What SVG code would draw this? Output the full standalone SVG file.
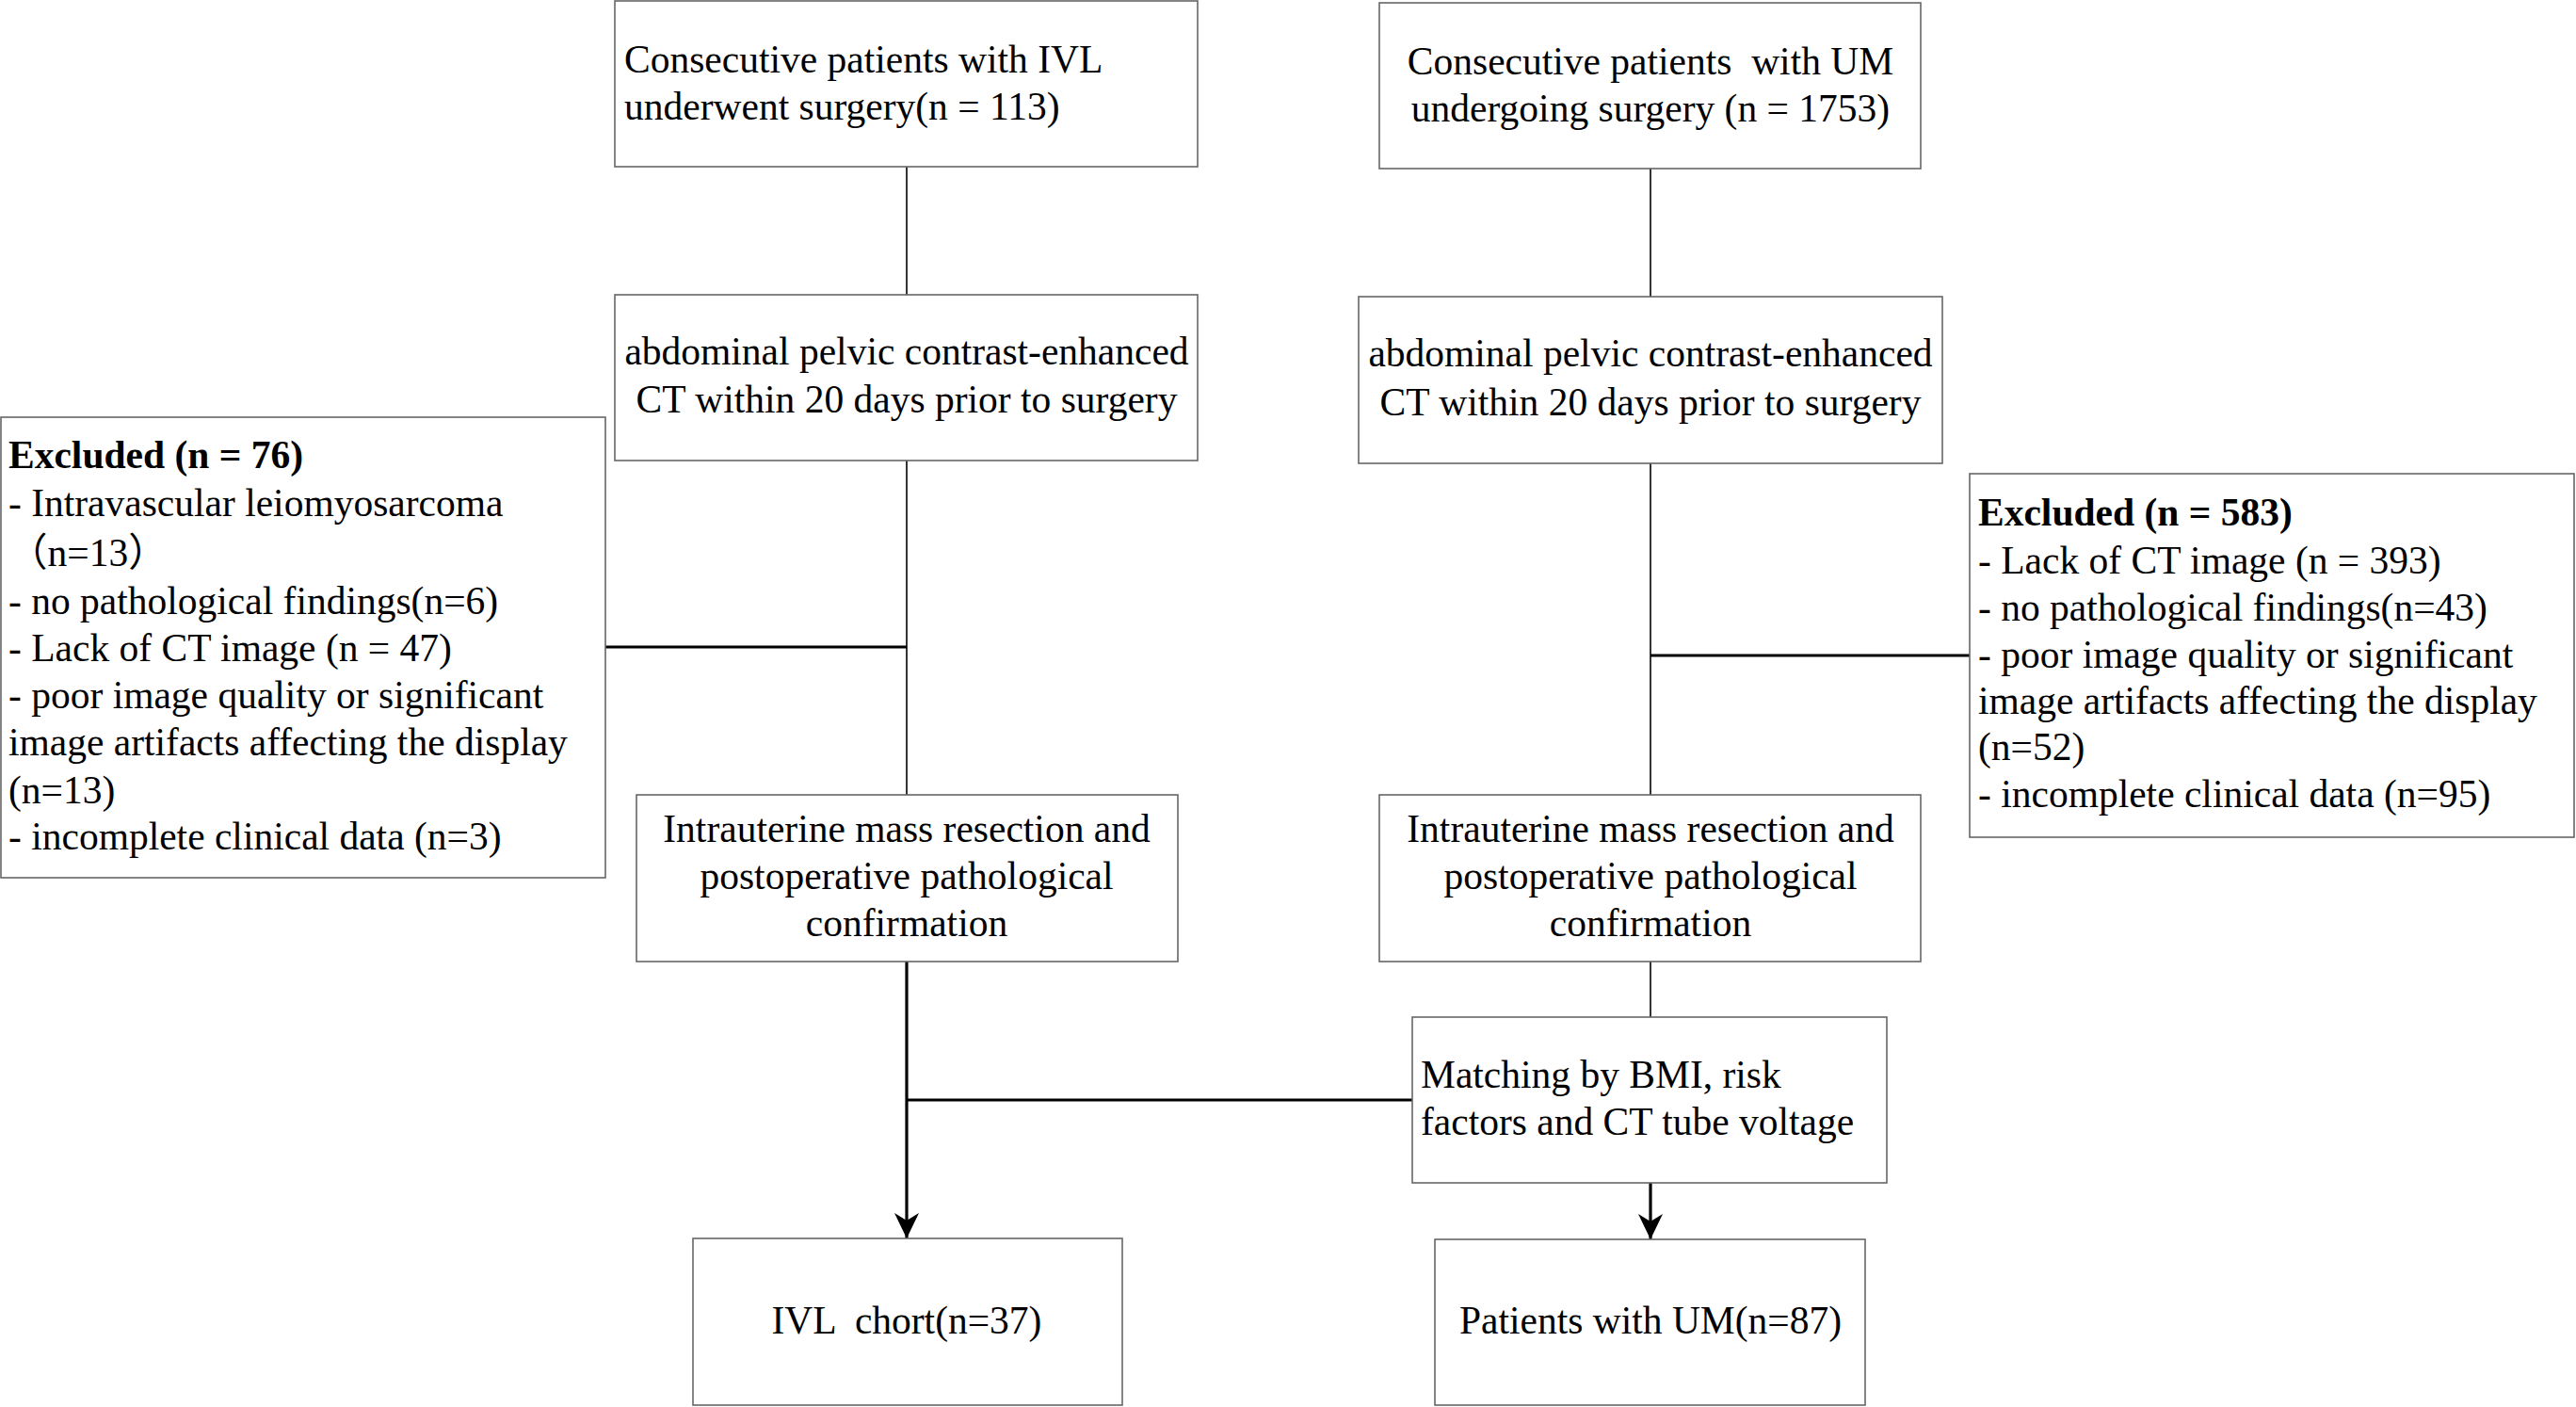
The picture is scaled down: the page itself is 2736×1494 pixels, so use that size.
<svg xmlns="http://www.w3.org/2000/svg" width="2736" height="1494" viewBox="0 0 2736 1494">
<defs>
<style>
.box{fill:#ffffff;stroke:#666666;stroke-width:1.6}
.t{font-family:"Liberation Serif","Times New Roman","Noto Sans CJK SC",serif;font-size:41.5px;fill:#000000;white-space:pre}
.c{text-anchor:middle}
.b{font-weight:bold}
.thin{stroke:#000000;stroke-width:1.6;fill:none}
.thick{stroke:#000000;stroke-width:3.2;fill:none}
</style>
<marker id="arr" markerUnits="userSpaceOnUse" markerWidth="30" markerHeight="30" viewBox="-28 -15 30 30" refX="0" refY="0" orient="auto">
<path d="M0,0 L-27,-13 L-19,0 L-27,13 Z" fill="#000000"/>
</marker>
</defs>
<rect width="2736" height="1494" fill="#ffffff"/>
<g id="connectors">
<line class="thin" x1="963" y1="177" x2="963" y2="313"/>
<line class="thin" x1="963" y1="489" x2="963" y2="844"/>
<line class="thick" x1="643" y1="687" x2="963" y2="687"/>
<line class="thin" x1="1753" y1="179" x2="1753" y2="315"/>
<line class="thin" x1="1753" y1="492" x2="1753" y2="844"/>
<line class="thick" x1="1753" y1="696" x2="2092" y2="696"/>
<line class="thick" x1="963" y1="1021" x2="963" y2="1315" marker-end="url(#arr)"/>
<line class="thick" x1="963" y1="1168" x2="1500" y2="1168"/>
<line class="thin" x1="1753" y1="1021" x2="1753" y2="1080"/>
<line class="thick" x1="1753" y1="1256" x2="1753" y2="1316" marker-end="url(#arr)"/>
</g>
<g id="ivl-start">
<rect class="box" x="653" y="1" width="619" height="176"/>
<text class="t" x="663" y="77">Consecutive patients with IVL</text>
<text class="t" x="663" y="127">underwent surgery(n = 113)</text>
</g>
<g id="ivl-ct">
<rect class="box" x="653" y="313" width="619" height="176"/>
<text class="t c" x="963" y="387">abdominal pelvic contrast-enhanced</text>
<text class="t c" x="963" y="438">CT within 20 days prior to surgery</text>
</g>
<g id="um-start">
<rect class="box" x="1465" y="3" width="575" height="176"/>
<text class="t c" x="1753" y="79">Consecutive patients  with UM</text>
<text class="t c" x="1753" y="129">undergoing surgery (n = 1753)</text>
</g>
<g id="um-ct">
<rect class="box" x="1443" y="315" width="620" height="177"/>
<text class="t c" x="1753" y="389">abdominal pelvic contrast-enhanced</text>
<text class="t c" x="1753" y="441">CT within 20 days prior to surgery</text>
</g>
<g id="ivl-excluded">
<rect class="box" x="1" y="443" width="642" height="489"/>
<text class="t b" x="9" y="497">Excluded (n = 76)</text>
<text class="t" x="9" y="548">- Intravascular leiomyosarcoma</text>
<text class="t" x="9" y="601">（n=13）</text>
<text class="t" x="9" y="652">- no pathological findings(n=6)</text>
<text class="t" x="9" y="702">- Lack of CT image (n = 47)</text>
<text class="t" x="9" y="752">- poor image quality or significant</text>
<text class="t" x="9" y="802">image artifacts affecting the display</text>
<text class="t" x="9" y="853">(n=13)</text>
<text class="t" x="9" y="902">- incomplete clinical data (n=3)</text>
</g>
<g id="um-excluded">
<rect class="box" x="2092" y="503" width="642" height="386"/>
<text class="t b" x="2101" y="558">Excluded (n = 583)</text>
<text class="t" x="2101" y="609">- Lack of CT image (n = 393)</text>
<text class="t" x="2101" y="659">- no pathological findings(n=43)</text>
<text class="t" x="2101" y="709">- poor image quality or significant</text>
<text class="t" x="2101" y="758">image artifacts affecting the display</text>
<text class="t" x="2101" y="807">(n=52)</text>
<text class="t" x="2101" y="857">- incomplete clinical data (n=95)</text>
</g>
<g id="ivl-resection">
<rect class="box" x="676" y="844" width="575" height="177"/>
<text class="t c" x="963" y="894">Intrauterine mass resection and</text>
<text class="t c" x="963" y="944">postoperative pathological</text>
<text class="t c" x="963" y="994">confirmation</text>
</g>
<g id="um-resection">
<rect class="box" x="1465" y="844" width="575" height="177"/>
<text class="t c" x="1753" y="894">Intrauterine mass resection and</text>
<text class="t c" x="1753" y="944">postoperative pathological</text>
<text class="t c" x="1753" y="994">confirmation</text>
</g>
<g id="matching">
<rect class="box" x="1500" y="1080" width="504" height="176"/>
<text class="t" x="1509" y="1155">Matching by BMI, risk</text>
<text class="t" x="1509" y="1205">factors and CT tube voltage</text>
</g>
<g id="ivl-cohort">
<rect class="box" x="736" y="1315" width="456" height="177"/>
<text class="t c" x="963" y="1416">IVL  chort(n=37)</text>
</g>
<g id="um-cohort">
<rect class="box" x="1524" y="1316" width="457" height="176"/>
<text class="t c" x="1753" y="1416">Patients with UM(n=87)</text>
</g>
</svg>
